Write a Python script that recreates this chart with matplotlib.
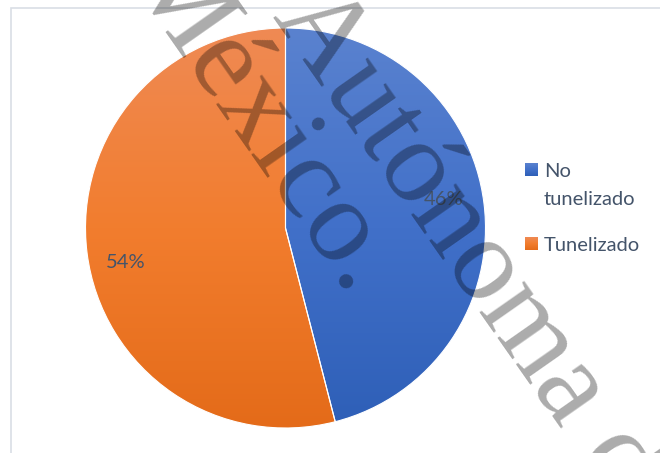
import numpy as np
import matplotlib
matplotlib.use('Agg')
import matplotlib.pyplot as plt
from matplotlib.colors import LinearSegmentedColormap
from matplotlib.patches import Rectangle

# ---- data ----
categories = ['No\ntunelizado', 'Tunelizado']
values = [46, 54]
colors_top = ['#5A82CF', '#EF8A54']
colors_mid = ['#4170C9', '#F27D2E']
colors_bottom = ['#2E5FB7', '#E46B19']
watermark_lines = ['Autónoma de', 'México.']

W, H = 660, 453
fig = plt.figure(figsize=(6.6, 4.53), dpi=100)
ax = fig.add_axes([0, 0, 1, 1])

cx, cy, r = 285.5, H - 228, 200
wedges, autotexts = ax.pie(
    values, startangle=90, counterclock=False, center=(cx, cy), radius=r,
    autopct='%1.0f%%', pctdistance=0.8, frame=True,
    wedgeprops=dict(facecolor='none', edgecolor='white', linewidth=0.8),
    textprops=dict(color='#44546A', fontsize=14.5, family='Lato'))[0::2]

grad = np.linspace(0, 1, 256).reshape(-1, 1)
cmaps = [LinearSegmentedColormap.from_list('g', [ct, cm, cb])
         for ct, cm, cb in zip(colors_top, colors_mid, colors_bottom)]
for w, cmap in zip(wedges, cmaps):
    im = ax.imshow(grad, cmap=cmap, extent=(cx - r, cx + r, cy - r, cy + r),
                   origin='upper', aspect='auto', zorder=0.5)
    im.set_clip_path(w)

label_offsets = [(-1, 8), (-1, -14)]
for t, (dx, dy) in zip(autotexts, label_offsets):
    x, y = t.get_position()
    t.set_position((x + dx, y + dy))
    t.set_zorder(3)

ax.set_xlim(0, W)
ax.set_ylim(0, H)
ax.axis('off')

# chart area frame
ax.add_patch(Rectangle((10.5, -20), W + 20, H - 7.5 + 20, fill=False,
                       edgecolor='#D9DEE5', linewidth=1.2, zorder=0.2))

# legend
sq = 13
leg_rows = [163, 237]   # top of square (image px)
for cat, cmap, ytop in zip(categories, cmaps, leg_rows):
    ax.imshow(grad, cmap=cmap, extent=(525, 525 + sq, H - ytop - sq, H - ytop),
              origin='upper', aspect='auto', zorder=2)
    for k, line in enumerate(cat.split('\n')):
        ax.text(544, H - (ytop + 14 + k * 28), line, ha='left', va='baseline',
                fontsize=14.5, family='Lato', color='#44546A', zorder=3)

# watermark
ax.text(272, H - 16, watermark_lines[0], rotation=-55, rotation_mode='anchor',
        ha='left', va='baseline', fontsize=86, family='Liberation Serif',
        color='black', alpha=0.33, zorder=6)
ax.text(349, H - 299, watermark_lines[1], rotation=-55, rotation_mode='anchor',
        ha='right', va='baseline', fontsize=86, family='Liberation Serif',
        color='black', alpha=0.33, zorder=6)

fig.savefig('out.png', dpi=100)
